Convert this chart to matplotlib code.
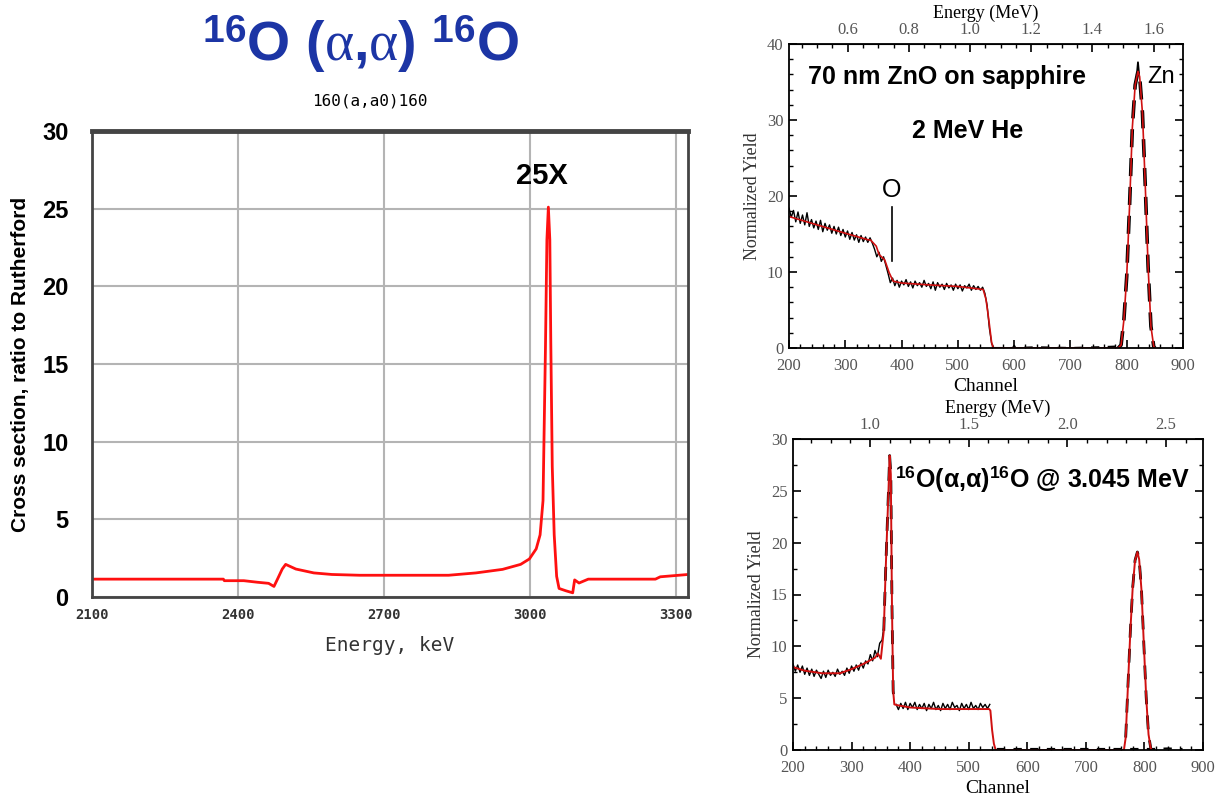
import matplotlib
matplotlib.use('Agg')
import matplotlib.pyplot as plt
from matplotlib.ticker import MultipleLocator, FormatStrFormatter

plt.rcParams['mathtext.fontset'] = 'custom'
plt.rcParams['mathtext.rm'] = 'Liberation Serif'
plt.rcParams['mathtext.bf'] = 'Liberation Sans:bold'
plt.rcParams['mathtext.it'] = 'Liberation Serif:italic'

# ---- left panel: 16O(a,a0)16O cross section / Rutherford ----
xs_energy = [2100, 2370, 2372, 2412, 2440, 2463, 2474, 2482, 2491, 2498, 2519, 2556,
             2593, 2650, 2833, 2889, 2944, 2981, 2999, 3013, 3021, 3027, 3032, 3035,
             3038, 3041, 3043, 3046, 3050, 3055, 3060, 3074, 3088, 3092, 3101, 3120,
             3258, 3268, 3325]
xs_ratio = [1.15, 1.15, 1.05, 1.05, 0.95, 0.88, 0.68, 1.2, 1.8, 2.1, 1.8, 1.55,
            1.45, 1.4, 1.4, 1.55, 1.78, 2.1, 2.45, 3.1, 4.0, 6.2, 16.0, 23.0,
            25.1, 23.0, 16.4, 8.4, 4.0, 1.33, 0.55, 0.4, 0.27, 1.1, 0.9, 1.15,
            1.15, 1.3, 1.45]

# ---- top right: 70 nm ZnO on sapphire, 2 MeV He ----
zno_fit_ch = [200, 250, 300, 340, 345, 355, 360, 370, 378, 385, 400, 450, 500, 545,
              550, 555, 560, 563, 785, 790, 795, 800, 805, 810, 815, 820, 823, 828,
              833, 838, 843, 848, 850]
zno_fit_y = [17.3, 16.2, 15.1, 14.25, 14.2, 13.4, 12.3, 11.6, 9.9, 8.8, 8.55, 8.3, 8.1, 7.7,
             6.4, 3.7, 0.7, 0.0, 0.0, 0.4, 3.7, 9.4, 18.6, 29.0, 34.6, 36.4, 35.7, 30.9,
             21.3, 10.7, 2.85, 0.2, 0.0]
zno_data_ch = list(range(200, 565, 4))
zno_data_y = [18.4, 17.2, 18.1, 16.6, 17.9, 16.4, 17.5, 16.2, 17.8, 16.0, 16.9, 15.8,
              16.7, 15.6, 16.8, 15.3, 16.4, 15.5, 16.2, 15.1, 16.0, 15.0, 15.9, 14.8,
              15.6, 14.6, 15.4, 14.3, 15.2, 14.2, 14.9, 13.9, 14.8, 14.0, 14.6, 13.9,
              14.5, 13.8, 13.0, 12.0, 12.6, 11.4, 12.0, 10.9, 9.8, 8.6, 9.2, 8.2,
              8.9, 8.0, 8.8, 8.3, 9.0, 8.1, 8.7, 7.9, 8.8, 8.2, 8.6, 8.0,
              8.9, 8.1, 8.5, 7.8, 8.7, 7.6, 8.6, 8.0, 8.4, 7.7, 8.5, 7.9,
              8.3, 7.6, 8.4, 7.8, 8.3, 7.5, 8.2, 7.9, 8.4, 7.6, 8.2, 7.7,
              8.1, 7.6, 8.0, 7.2, 5.6, 2.6, 0.6, 0.0]
zno_zero_ch = [564, 598, 600, 602, 640, 700, 750, 784]
zno_zero_y = [0.0, 0.0, 0.3, 0.0, 0.1, 0.0, 0.1, 0.2]
zno_top_ch = [818, 820, 822]
zno_top_y = [36.0, 37.6, 36.0]

# ---- bottom right: 16O(a,a)16O @ 3.045 MeV ----
res_fit_ch = [200, 220, 250, 280, 300, 320, 340, 345, 350, 355, 358, 361, 363, 365,
              367, 369, 371, 373, 380, 400, 450, 500, 535, 537, 540, 543, 546, 765,
              768, 772, 776, 780, 784, 788, 791, 795, 799, 803, 807, 811, 813]
res_fit_y = [8.0, 7.65, 7.4, 7.4, 7.8, 8.3, 8.9, 9.3, 8.8, 11.5, 17.0, 21.8, 25.0, 28.4,
             26.6, 13.8, 5.7, 4.4, 4.3, 4.1, 3.95, 3.95, 3.95, 3.8, 1.9, 0.6, 0.0, 0.0,
             1.2, 6.4, 11.5, 15.7, 18.3, 19.1, 18.4, 15.4, 10.2, 5.1, 1.5, 0.1, 0.0]
res_data_ch = list(range(200, 352, 4)) + [352, 355]
res_data_y = [8.3, 7.6, 8.2, 7.5, 8.1, 7.3, 7.9, 7.2, 7.8, 7.1, 7.7, 7.3,
              6.9, 7.6, 7.0, 7.7, 7.2, 7.5, 7.1, 7.8, 7.3, 7.6, 7.2, 7.9,
              7.4, 8.1, 7.6, 8.2, 7.7, 8.4, 7.9, 8.6, 8.3, 9.2, 8.6, 9.6,
              9.0, 10.3, 10.6, 11.8]
res_plateau_ch = list(range(376, 540, 4))
res_plateau_y = [4.4, 3.9, 4.5, 4.0, 4.6, 3.9, 4.5, 4.1, 4.6, 3.9, 4.4, 4.0,
                 4.5, 3.8, 4.4, 4.0, 4.6, 3.9, 4.3, 3.8, 4.5, 4.0, 4.4, 3.9,
                 4.6, 4.1, 4.3, 3.8, 4.5, 4.0, 4.4, 3.9, 4.6, 4.0, 4.3, 3.9,
                 4.5, 4.1, 4.4, 4.0, 4.4]
res_zero_ch = [548, 600, 650, 700, 760, 815, 840, 865]
res_zero_y = [0.1, 0.1, 0.1, 0.1, 0.1, 0.1, 0.15, 0.1]

# energy tick labels on the top axes
zno_energy_ticks = [0.6, 0.8, 1.0, 1.2, 1.4, 1.6]
res_energy_ticks = [1.0, 1.5, 2.0, 2.5]

fig = plt.figure(figsize=(12.22, 7.96), dpi=100)

# title over left panel
fig.text(0.295, 0.944, r'$^{\mathbf{16}}$O ($\mathrm{\alpha}$,$\mathrm{\alpha}$) $^{\mathbf{16}}$O',
         ha='center', va='center', fontsize=40, fontweight='bold', color='#1c35a5',
         family='Liberation Sans')
fig.text(0.303, 0.873, '160(a,a0)160', ha='center', va='center', fontsize=11.5,
         family='DejaVu Sans Mono')

ax = fig.add_axes([92 / 1222, 1 - 597 / 796, 596 / 1222, 466 / 796])
ax.plot(xs_energy, xs_ratio, color='#ff1010', lw=2)
ax.set_xlim(2100, 3325)
ax.set_ylim(0, 30)
ax.set_xticks([2100, 2400, 2700, 3000, 3300])
ax.set_yticks([0, 5, 10, 15, 20, 25, 30])
ax.grid(True, color='#b4b4b4', lw=1.5)
ax.tick_params(length=0, pad=17, axis='y')
ax.tick_params(length=0, pad=8, axis='x')
for lab in ax.get_yticklabels():
    lab.set_family(['Liberation Sans Narrow', 'Liberation Sans'])
    lab.set_fontweight('bold')
    lab.set_fontsize(17)
for lab in ax.get_xticklabels():
    lab.set_family('DejaVu Sans Mono')
    lab.set_fontweight('bold')
    lab.set_fontsize(10)
    lab.set_color('#333333')
for s in ax.spines.values():
    s.set_color('#444444')
    s.set_linewidth(2)
ax.spines['top'].set_linewidth(3.5)
ax.set_xlabel('Energy, keV', family='DejaVu Sans Mono', fontsize=14, labelpad=10,
              color='#333333')
ax.set_ylabel('Cross section, ratio to Rutherford', family='Liberation Sans',
              fontweight='bold', fontsize=15, labelpad=9)
ax.text(3025, 27.1, '25X', ha='center', va='center', fontsize=21, fontweight='bold',
        family='Liberation Sans')


def style_rbs(a, ymaj, ymin, eticks, emin, ch2e, e2ch):
    a.set_xlim(200, 900)
    a.xaxis.set_major_locator(MultipleLocator(100))
    a.xaxis.set_minor_locator(MultipleLocator(20))
    a.yaxis.set_major_locator(MultipleLocator(ymaj))
    a.yaxis.set_minor_locator(MultipleLocator(ymin))
    a.tick_params(which='both', direction='in', right=True, top=False,
                  labelsize=12, labelcolor='#555555', pad=4)
    a.tick_params(axis='x', which='major', pad=7)
    a.tick_params(which='major', length=6, width=1.2)
    a.tick_params(which='minor', length=3, width=1)
    for lab in a.get_xticklabels() + a.get_yticklabels():
        lab.set_family('Liberation Serif')
    for s in a.spines.values():
        s.set_linewidth(1.3)
    a.set_xlabel('Channel', family='Liberation Serif', fontsize=14, labelpad=3)
    a.set_ylabel('Normalized Yield', family='Liberation Serif', fontsize=13, labelpad=4,
                 color='#333333')
    sec = a.secondary_xaxis('top', functions=(ch2e, e2ch))
    sec.set_xticks(eticks)
    sec.xaxis.set_minor_locator(MultipleLocator(emin))
    sec.xaxis.set_major_formatter(FormatStrFormatter('%.1f'))
    sec.tick_params(which='both', direction='in', labelsize=12, labelcolor='#555555', pad=4)
    sec.tick_params(which='major', length=6, width=1.2)
    sec.tick_params(which='minor', length=3, width=1)
    for lab in sec.get_xticklabels():
        lab.set_family('Liberation Serif')
    sec.set_xlabel('Energy (MeV)', family='Liberation Serif', fontsize=13, labelpad=3)
    return sec


# top right panel
ax2 = fig.add_axes([789 / 1222, 1 - 348 / 796, 394 / 1222, 304 / 796])
ax2.plot(zno_data_ch, zno_data_y, color='black', lw=1)
ax2.plot(zno_zero_ch, zno_zero_y, color='black', lw=1.5, ls=(0, (4, 4)))
ax2.plot(zno_fit_ch[-15:], zno_fit_y[-15:], color='black', lw=2.6, ls=(0, (5, 3)))
ax2.plot(zno_top_ch, zno_top_y, color='black', lw=1.3)
ax2.plot(zno_fit_ch, zno_fit_y, color='#d01010', lw=1.2)
ax2.set_ylim(0, 40)
style_rbs(ax2, 10, 2, zno_energy_ticks, 0.05,
          lambda c: 0.04 + 0.00184 * c, lambda e: (e - 0.04) / 0.00184)
ax2.text(480, 35.7, '70 nm ZnO on sapphire', ha='center', va='center', fontsize=18,
         fontweight='bold', family='Liberation Sans')
ax2.text(517, 28.5, '2 MeV He', ha='center', va='center', fontsize=18,
         fontweight='bold', family='Liberation Sans')
ax2.text(861, 35.7, 'Zn', ha='center', va='center', fontsize=17, family='Liberation Sans')
ax2.text(382, 20.8, 'O', ha='center', va='center', fontsize=18, family='Liberation Sans')
ax2.plot([383, 383], [11.4, 18.6], color='black', lw=1.2)

# bottom right panel
ax3 = fig.add_axes([793 / 1222, 1 - 750 / 796, 410 / 1222, 311 / 796])
ax3.plot(res_data_ch, res_data_y, color='black', lw=1)
ax3.plot(res_plateau_ch, res_plateau_y, color='black', lw=1)
ax3.plot(res_zero_ch, res_zero_y, color='black', lw=1.5, ls=(0, (4, 4)))
ax3.plot(res_fit_ch[9:18], res_fit_y[9:18], color='black', lw=2.0, ls=(0, (5, 4)))
ax3.plot(res_fit_ch[-13:], res_fit_y[-13:], color='black', lw=2.0, ls=(0, (5, 4)))
ax3.plot(res_fit_ch, res_fit_y, color='#d01010', lw=1.4)
ax3.set_ylim(0, 30)
style_rbs(ax3, 5, 2.5, res_energy_ticks, 0.1,
          lambda c: 0.015 + 0.00297 * c, lambda e: (e - 0.015) / 0.00297)
ax3.text(626, 26.1, r'$^{\mathbf{16}}$O($\mathbf{\alpha}$,$\mathbf{\alpha}$)$^{\mathbf{16}}$O @ 3.045 MeV',
         ha='center', va='center', fontsize=18, fontweight='bold', family='Liberation Sans')

fig.savefig('out.png', dpi=100)
